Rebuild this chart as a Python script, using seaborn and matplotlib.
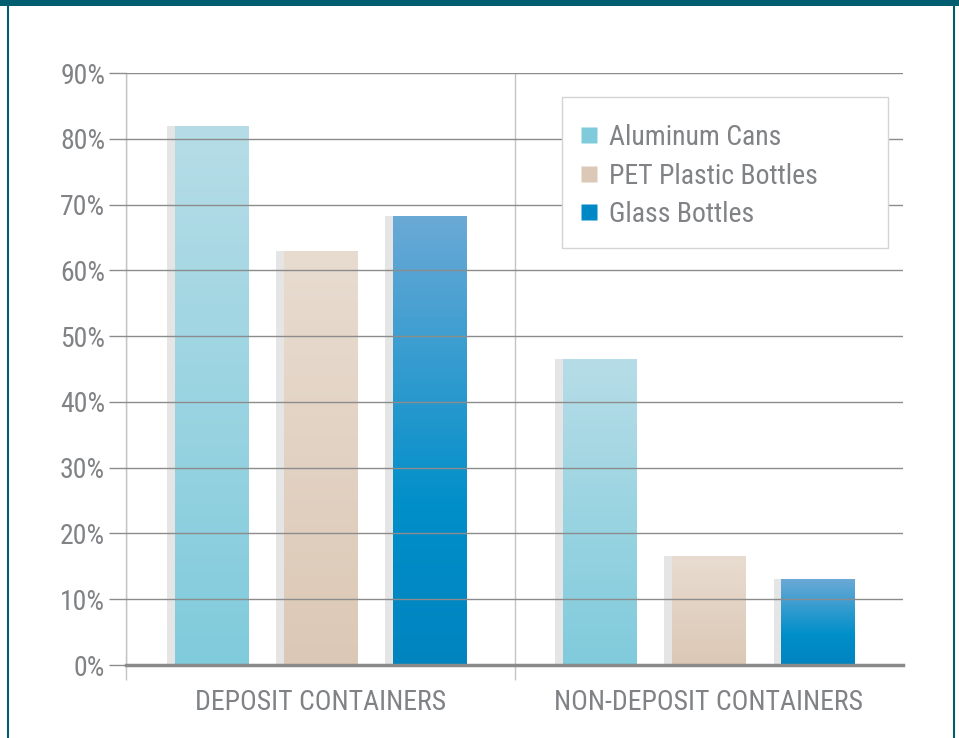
import pandas as pd
import numpy as np
import seaborn as sns
import matplotlib.pyplot as plt
from matplotlib import font_manager
from matplotlib.colors import LinearSegmentedColormap
from matplotlib.lines import Line2D
from matplotlib.patches import Rectangle

# 数据
containers = ['DEPOSIT CONTAINERS', 'NON-DEPOSIT CONTAINERS']
materials = ['Aluminum Cans', 'PET Plastic Bottles', 'Glass Bottles']
aluminum = [82, 46.5]
pet = [63, 16.5]
glass = [68.3, 13]

rows = []
for i, c in enumerate(containers):
    rows.append((c, materials[0], aluminum[i]))
    rows.append((c, materials[1], pet[i]))
    rows.append((c, materials[2], glass[i]))
df = pd.DataFrame(rows, columns=['container', 'material', 'rate'])

# 颜色
legend_colors = ['#7fcbdc', '#dcc8b6', '#0088c6']
grad_colors = [
    [(0, '#80cbdc'), (1, '#b6dde7')],
    [(0, '#dcc8b6'), (1, '#e8dcd0')],
    [(0, '#0084c0'), (0.35, '#008fc9'), (1, '#6ba9d6')],
]
text_grey = '#808285'
grid_grey = '#8c8c8c'
teal = '#005e70'

sns.set_style('white')
names = {f.name for f in font_manager.fontManager.ttflist}
fam = 'Liberation Sans'
for cand in ['Roboto Condensed', 'Archivo Narrow', 'IBM Plex Sans Condensed', 'Fira Sans Condensed']:
    if cand in names:
        fam = cand
        break
plt.rcParams['font.family'] = [fam, 'DejaVu Sans']
fs = 20

fig = plt.figure(figsize=(9.59, 7.38), dpi=100)
ax = fig.add_axes([126 / 959, 73 / 738, (903 - 126) / 959, (665 - 73) / 738])

sns.barplot(data=df, x='container', y='rate', hue='material', hue_order=materials,
            palette=legend_colors, saturation=1, width=0.843, gap=0.33,
            legend=False, ax=ax)

# 渐变填充和阴影
for k, bars in enumerate(ax.containers):
    cmap = LinearSegmentedColormap.from_list('g%d' % k, grad_colors[k])
    grad = np.linspace(1, 0, 256).reshape(-1, 1)
    for bar in bars:
        x = bar.get_x()
        w = bar.get_width()
        h = bar.get_height()
        ax.add_patch(Rectangle((x - 0.02, 0), 0.02, h, facecolor='#e5e5e6',
                               edgecolor='none', zorder=0.9))
        bar.set_facecolor('none')
        bar.set_edgecolor('none')
        im = ax.imshow(grad, cmap=cmap, vmin=0, vmax=1, aspect='auto',
                       extent=[x, x + w, 0, h], zorder=1.2)
        im.set_clip_path(bar)

ax.set_xlim(-0.5, 1.5)
ax.set_ylim(0, 90)
ax.set_yticks(range(0, 91, 10))
ax.set_yticklabels(['%d%%' % v for v in range(0, 91, 10)])
ax.set_xlabel('')
ax.set_ylabel('')

for s in ['top', 'right']:
    ax.spines[s].set_visible(False)
ax.spines['left'].set_color('#c4c4c4')
ax.spines['left'].set_linewidth(1)
ax.spines['bottom'].set_color('#8a8a8a')
ax.spines['bottom'].set_linewidth(2.5)
ax.spines['bottom'].set_zorder(3)

ax.set_axisbelow(False)
ax.yaxis.grid(True, color=grid_grey, linewidth=1)
ax.set_xticks([-0.5, 0.5], minor=True)
ax.xaxis.grid(True, which='minor', color='#c4c4c4', linewidth=1)
ax.tick_params(axis='x', which='minor', length=11, color='#c4c4c4', width=1,
               direction='out', bottom=True)
ax.tick_params(axis='x', which='major', length=0, pad=17, labelsize=fs,
               labelcolor=text_grey)
ax.tick_params(axis='y', length=12, color=grid_grey, width=1, direction='out',
               pad=3, labelsize=fs, labelcolor=text_grey, left=True)

# 图例
box = Rectangle((562 / 959, 1 - 248 / 738), (888 - 562) / 959, (248 - 97) / 738,
                transform=fig.transFigure, facecolor='white',
                edgecolor='#d4d4d4', linewidth=1, zorder=4, clip_on=False)
ax.add_patch(box)
handles = [Line2D([], [], marker='s', linestyle='none', markersize=11,
                  markerfacecolor=c, markeredgecolor='none') for c in legend_colors]
leg = ax.legend(handles, materials, loc='center left',
                bbox_to_anchor=(578 / 959, 1 - 176 / 738), bbox_transform=fig.transFigure,
                frameon=False, fontsize=fs, labelcolor=text_grey,
                handlelength=0.8, handletextpad=0.3, labelspacing=0.42,
                borderpad=0, borderaxespad=0)
leg.set_zorder(5)

# 外框
fig.add_artist(Rectangle((0, 1 - 6 / 738), 1, 6 / 738, transform=fig.transFigure,
                         facecolor=teal, edgecolor='none'))
fig.add_artist(Line2D([7.5 / 959, 7.5 / 959], [0, 1], transform=fig.transFigure,
                      color=teal, linewidth=1.5))
fig.add_artist(Line2D([953.5 / 959, 953.5 / 959], [0, 1], transform=fig.transFigure,
                      color=teal, linewidth=1.5))

plt.savefig('out.png', dpi=100)
